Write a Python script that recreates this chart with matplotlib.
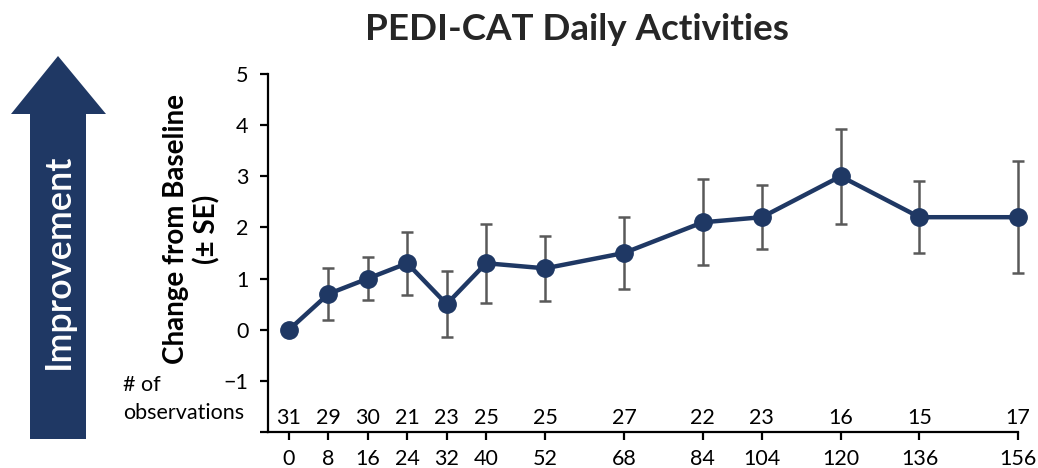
import matplotlib
matplotlib.use("Agg")
import matplotlib.pyplot as plt
from matplotlib.patches import Polygon
from matplotlib.ticker import FuncFormatter

# ---- data ----
week_labels = ["0", "8", "16", "24", "32", "40", "52", "68", "84", "104", "120", "136", "156"]
mean_change = [0.0, 0.7, 1.0, 1.3, 0.5, 1.3, 1.2, 1.5, 2.1, 2.2, 3.0, 2.2, 2.2]
se = [0.0, 0.51, 0.42, 0.62, 0.65, 0.77, 0.64, 0.70, 0.84, 0.63, 0.93, 0.70, 1.09]
n_obs = [31, 29, 30, 21, 23, 25, 25, 27, 22, 23, 16, 15, 17]

# ---- layout (plotted positions on the original chart's axis) ----
x_pos = [0, 8, 16, 24, 32, 40, 52, 68, 84, 96, 112, 128, 148]

NAVY = "#1F3864"
GRAY = "#595959"
FONT = "Lato"
FS = 15.5

plt.rcParams["font.family"] = [FONT, "DejaVu Sans"]

W, H = 1038, 468
fig = plt.figure(figsize=(W / 100, H / 100), dpi=100)
ax = fig.add_axes([268 / W, 1 - 432 / H, (1018 - 268) / W, (432 - 74) / H])

ax.errorbar(x_pos, mean_change, yerr=se, fmt="none", ecolor=GRAY,
            elinewidth=1.8, capsize=4, capthick=1.8, zorder=2, clip_on=False)
ax.plot(x_pos, mean_change, color=NAVY, lw=3.2, marker="o", ms=12.5,
        zorder=3, clip_on=False)

ax.set_xlim(-4.27, 148)
ax.set_ylim(-2, 5)
ax.set_xticks(x_pos)
ax.set_xticklabels(week_labels)
ax.set_yticks(range(-2, 6))
ax.yaxis.set_major_formatter(FuncFormatter(lambda v, p: "" if v < -1.5 else f"{int(v)}".replace("-", "\u2212")))

for s in ["top", "right"]:
    ax.spines[s].set_visible(False)
for s in ["left", "bottom"]:
    ax.spines[s].set_linewidth(1.6)
    ax.spines[s].set_color("black")
ax.tick_params(axis="both", direction="out", length=6, width=1.6, labelsize=FS, colors="black")
ax.tick_params(axis="x", pad=6)
ax.tick_params(axis="y", pad=8)

# observation counts
for xp, n in zip(x_pos, n_obs):
    ax.text(xp, -1.72, str(n), ha="center", va="center", fontsize=FS, clip_on=False)

fig.text(123 / W, 1 - 385 / H, "# of", ha="left", va="center", fontsize=FS)
fig.text(123 / W, 1 - 413 / H, "observations", ha="left", va="center", fontsize=FS)

# y label
fig.text(192 / W, 1 - 229 / H, "Change from Baseline\n(± SE)", rotation=90,
         ha="center", va="center", fontsize=20, fontweight="bold", linespacing=1.2)

# title
fig.text(577 / W, 1 - 30 / H, "PEDI-CAT Daily Activities", ha="center", va="center",
         fontsize=26.5, fontweight="bold", color="#262626")

# improvement arrow (pixel coords, top-left origin)
arrow_px = [(30, 439), (86, 439), (86, 114), (106, 114), (58, 56), (11, 114), (30, 114)]
arrow = Polygon([(x, H - y) for x, y in arrow_px], closed=True, transform=None,
                facecolor=NAVY, edgecolor="none")
fig.patches.append(arrow)
fig.text(58 / W, 1 - 261 / H, "Improvement", rotation=90, ha="center", va="center",
         color="white", fontsize=26, fontweight="semibold")

fig.savefig("out.png", dpi=100)
